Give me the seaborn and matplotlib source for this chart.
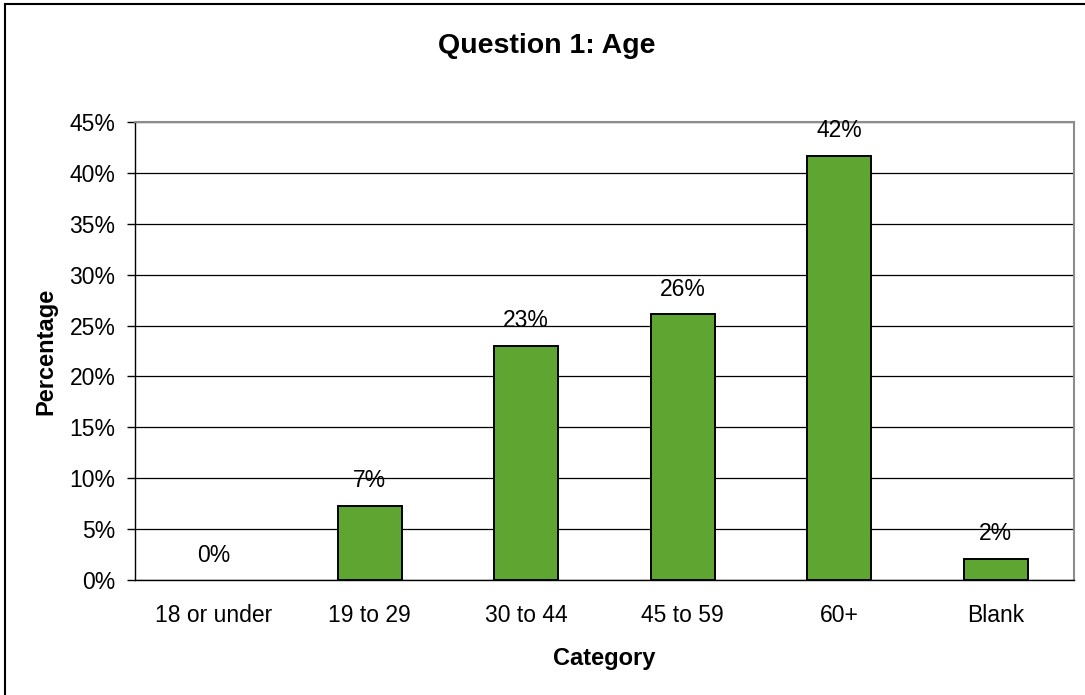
import matplotlib
matplotlib.use("Agg")
import matplotlib.pyplot as plt
import matplotlib.patches as mpatches
from matplotlib.ticker import FuncFormatter, MultipleLocator
import pandas as pd
import seaborn as sns

# Dados
categorias = ['18 or under', '19 to 29', '30 to 44', '45 to 59', '60+', 'Blank']
percentuais = [0.0, 7.3, 23.0, 26.1, 41.7, 2.1]
rotulos = ['0%', '7%', '23%', '26%', '42%', '2%']

df = pd.DataFrame({'categoria': categorias, 'percentual': percentuais})

sns.set_style('white')
plt.rcParams['font.family'] = ['Liberation Sans', 'DejaVu Sans']
plt.rcParams['text.color'] = 'black'
plt.rcParams['axes.labelcolor'] = 'black'
plt.rcParams['xtick.labelcolor'] = 'black'
plt.rcParams['ytick.labelcolor'] = 'black'

fig = plt.figure(figsize=(10.85, 6.95), dpi=100)
ax = fig.add_axes([135 / 1085, 1 - 580 / 695, (1074 - 135) / 1085, (580 - 122) / 695])

# Moldura externa do gráfico (estilo Excel)
fig.patches.append(mpatches.Rectangle((5 / 1085, -0.1), 1.2, 1 - 4 / 695 + 0.1,
                                      transform=fig.transFigure, fill=False,
                                      edgecolor='black', linewidth=1.5, zorder=0))

sns.barplot(x='categoria', y='percentual', data=df, color='#5EA532',
            edgecolor='black', linewidth=1.4, width=0.41, saturation=1, ax=ax, zorder=3)

# barra com valor zero não aparece
for p in ax.patches:
    if p.get_height() == 0:
        p.set_linewidth(0)

ax.set_ylim(0, 45)
ax.set_xlim(-0.5, len(categorias) - 0.5)
ax.yaxis.set_major_locator(MultipleLocator(5))
ax.yaxis.set_major_formatter(FuncFormatter(lambda v, p: f'{v:.0f}%'))
ax.grid(axis='y', color='black', linewidth=0.9, zorder=0)
ax.set_axisbelow(True)

# Ticks do eixo x entre as categorias
ax.set_xticks(range(len(categorias)))
ax.set_xticklabels(categorias)
ax.set_xticks([i - 0.5 for i in range(len(categorias) + 1)], minor=True)
ax.tick_params(axis='x', which='major', length=0, pad=17.5, labelsize=16.5)
ax.tick_params(axis='x', which='minor', length=6, width=1, color='black', direction='out')
ax.tick_params(axis='y', length=6, width=1, color='black', direction='out', pad=8, labelsize=16.5, left=True)

for lado in ['top', 'right']:
    ax.spines[lado].set_color('#8c8c8c')
    ax.spines[lado].set_linewidth(1.5)
for lado in ['left', 'bottom']:
    ax.spines[lado].set_color('black')
    ax.spines[lado].set_linewidth(1)

# Rótulos de valor acima das barras
for i, (v, r) in enumerate(zip(percentuais, rotulos)):
    ax.annotate(r, (i, v), xytext=(0, 18), textcoords='offset points',
                ha='center', va='center', fontsize=16.5)

ax.set_xlabel('Category', fontsize=17, fontweight='bold', labelpad=14)
ax.set_ylabel('Percentage', fontsize=17, fontweight='bold', labelpad=9)

# título centrado na área do gráfico inteiro
fig.text(547 / 1085, 1 - 46 / 695, 'Question 1: Age', fontsize=20.5, fontweight='bold',
         ha='center', va='center')

fig.savefig('out.png', dpi=100)
plt.close(fig)
